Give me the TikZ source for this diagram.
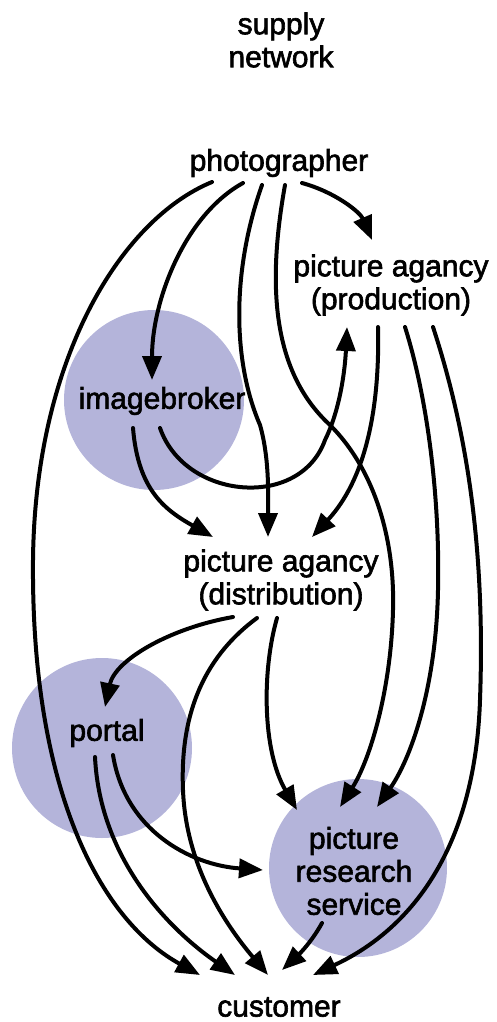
\documentclass[tikz,border=0pt]{standalone}
\usepackage{fontspec}
\setmainfont{Liberation Sans}
\newfontfamily\lblfont{Liberation Sans}[FakeBold=2]
\usetikzlibrary{arrows.meta}
\definecolor{blobfill}{RGB}{180,180,218}
\tikzset{
  lbl/.style={align=center, inner sep=0pt, font=\lblfont\fontsize{30}{33}\selectfont},
  blob/.style={circle, fill=blobfill, draw=none, inner sep=0pt},
  flow/.style={line width=4pt, line cap=round, -{Triangle[length=24pt,width=19pt]}}
}
\begin{document}
\begin{tikzpicture}[x=1pt,y=-1pt]
\useasboundingbox (0,0) rectangle (497,1022);

% shaded discs behind the labels
\node[blob, minimum size=180pt] (imbc) at (154,400) {};
\node[blob, minimum size=180pt] (portalc) at (102,748) {};
\node[blob, minimum size=178pt] (prsc) at (358,868) {};

% labels
\node[lbl] (title) at (281,40) {supply\\network};
\node[lbl] (ph) at (279,163) {photographer};
\node[lbl] (prod) at (391,285) {picture agancy\\(production)};
\node[lbl] (imb) at (162,401) {imagebroker};
\node[lbl] (dist) at (281,580) {picture agancy\\(distribution)};
\node[lbl] (portal) at (107,733) {portal};
\node[lbl] (prs) at (354,871) {picture\\research\\service};
\node[lbl] (cust) at (279,1007) {customer};

% photographer
\draw[flow] ([shift={(-67,19)}]ph.center) .. controls (120,220) and (35,360) .. (33,560)
  .. controls (31,790) and (100,920) .. ([shift={(-79,-32)}]cust.center);
\draw[flow] ([shift={(-36,20)}]ph.center) .. controls (185,215) and (152,300) .. ([shift={(-10,-21)}]imb.center);
\draw[flow] ([shift={(-17,22)}]ph.center) .. controls (232,270) and (232,360) .. (260,425)
  .. controls (270,460) and (268,500) .. ([shift={(-13,-43)}]dist.center);
\draw[flow] ([shift={(6,22)}]ph.center) .. controls (268,280) and (270,370) .. (330,425)
  .. controls (375,470) and (395,540) .. (393,610)
  .. controls (391,690) and (370,760) .. ([shift={(-14,-64)}]prs.center);
\draw[flow] ([shift={(23,20)}]ph.center) .. controls (335,192) and (360,212) .. ([shift={(-19,-45)}]prod.center);

% imagebroker
\draw[flow] ([shift={(-2,27)}]imb.center) .. controls (185,500) and (300,510) .. (325,440)
  .. controls (340,410) and (345,370) .. ([shift={(-44,42)}]prod.center);
\draw[flow] ([shift={(-29,27)}]imb.center) .. controls (138,490) and (165,510) .. ([shift={(-68,-43)}]dist.center);

% production
\draw[flow] ([shift={(-13,42)}]prod.center) .. controls (380,410) and (365,480) .. ([shift={(31,-43)}]dist.center);
\draw[flow] ([shift={(14,42)}]prod.center) .. controls (428,400) and (440,500) .. (438,590)
  .. controls (436,690) and (410,760) .. ([shift={(23,-64)}]prs.center);
\draw[flow] ([shift={(42,42)}]prod.center) .. controls (470,440) and (485,560) .. (480,700)
  .. controls (475,850) and (410,930) .. ([shift={(34,-32)}]cust.center);

% distribution
\draw[flow] ([shift={(-48,37)}]dist.center) .. controls (170,628) and (115,660) .. ([shift={(-2,-26)}]portal.center);
\draw[flow] ([shift={(-24,38)}]dist.center) .. controls (200,660) and (180,720) .. (183,790)
  .. controls (186,870) and (230,930) .. ([shift={(-11,-32)}]cust.center);
\draw[flow] ([shift={(-4,38)}]dist.center) .. controls (262,670) and (262,750) .. ([shift={(-57,-61)}]prs.center);

% portal
\draw[flow] ([shift={(-12,24)}]portal.center) .. controls (100,860) and (170,930) .. ([shift={(-44,-32)}]cust.center);
\draw[flow] ([shift={(6,22)}]portal.center) .. controls (125,830) and (190,865) .. ([shift={(-91,-1)}]prs.center);

% picture research service
\draw[flow] ([shift={(-32,52)}]prs.center) .. controls (310,945) and (295,958) .. ([shift={(3,-37)}]cust.center);
\end{tikzpicture}
\end{document}
